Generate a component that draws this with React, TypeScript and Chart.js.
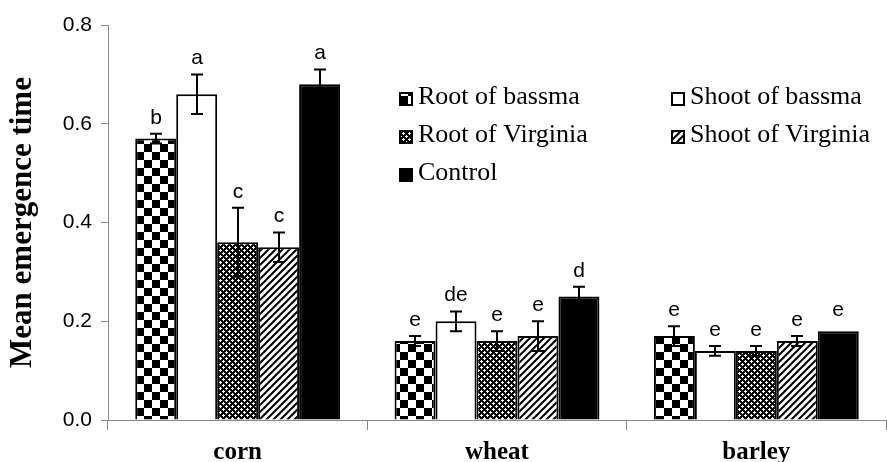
import React, { useEffect, useRef } from "react";
import { Chart, registerables } from "chart.js";
Chart.register(...registerables);

const categories = ["corn", "wheat", "barley"];
const seriesNames = ["Root of bassma", "Shoot of bassma", "Root of Virginia", "Shoot of Virginia", "Control"];

const rootBassma = [0.57, 0.16, 0.17];
const shootBassma = [0.66, 0.2, 0.14];
const rootVirginia = [0.36, 0.16, 0.14];
const shootVirginia = [0.35, 0.17, 0.16];
const control = [0.68, 0.25, 0.18];

const rootBassmaErr = [0.01, 0.01, 0.02];
const shootBassmaErr = [0.04, 0.02, 0.01];
const rootVirginiaErr = [0.07, 0.02, 0.01];
const shootVirginiaErr = [0.03, 0.03, 0.01];
const controlErr = [0.03, 0.02, 0];

const rootBassmaLetters = ["b", "e", "e"];
const shootBassmaLetters = ["a", "de", "e"];
const rootVirginiaLetters = ["c", "e", "e"];
const shootVirginiaLetters = ["c", "e", "e"];
const controlLetters = ["a", "d", "e"];

const yTicks = [0, 0.2, 0.4, 0.6, 0.8];

const SERIF = '"Liberation Serif", "Times New Roman", serif';
const SANS = '"Liberation Sans", Arial, sans-serif';

function makeTile(w: number, h: number, draw: (c: CanvasRenderingContext2D) => void) {
  const cv = document.createElement("canvas");
  cv.width = w;
  cv.height = h;
  const c = cv.getContext("2d")!;
  draw(c);
  return cv;
}

function makePatterns(ctx: CanvasRenderingContext2D) {
  const checker = makeTile(16, 16, (c) => {
    c.fillStyle = "#fff";
    c.fillRect(0, 0, 16, 16);
    c.fillStyle = "#000";
    c.fillRect(0, 0, 8, 8);
    c.fillRect(8, 8, 8, 8);
  });
  const dense = makeTile(6, 6, (c) => {
    c.fillStyle = "#000";
    c.fillRect(0, 0, 6, 6);
    c.fillStyle = "#fff";
    c.fillRect(1, 0, 1, 3);
    c.fillRect(0, 1, 3, 1);
    c.fillRect(4, 3, 1, 3);
    c.fillRect(3, 4, 3, 1);
  });
  const diag = makeTile(7, 7, (c) => {
    c.fillStyle = "#fff";
    c.fillRect(0, 0, 7, 7);
    c.strokeStyle = "#000";
    c.lineWidth = 2;
    for (const off of [-7, 0, 7]) {
      c.beginPath();
      c.moveTo(off - 1, 8);
      c.lineTo(off + 8, -1);
      c.stroke();
    }
  });
  return {
    checker: ctx.createPattern(checker, "repeat")!,
    dense: ctx.createPattern(dense, "repeat")!,
    diag: ctx.createPattern(diag, "repeat")!,
  };
}

export default function App() {
  const ref = useRef<HTMLCanvasElement | null>(null);

  useEffect(() => {
    document.body.style.margin = "0";
    const canvas = ref.current!;
    const ctx = canvas.getContext("2d")!;
    const pats = makePatterns(ctx);

    const values = [rootBassma, shootBassma, rootVirginia, shootVirginia, control];
    const errs = [rootBassmaErr, shootBassmaErr, rootVirginiaErr, shootVirginiaErr, controlErr];
    const letters = [rootBassmaLetters, shootBassmaLetters, rootVirginiaLetters, shootVirginiaLetters, controlLetters];
    const fills: (string | CanvasPattern)[] = [pats.checker, "#fff", pats.dense, pats.diag, "#000"];

    const errorPlugin = {
      id: "errbars",
      afterDatasetsDraw(chart: any) {
        const c = chart.ctx;
        const y = chart.scales.y;
        c.save();
        c.strokeStyle = "#000";
        c.lineWidth = 2;
        values.forEach((vals, i) => {
          const meta = chart.getDatasetMeta(i);
          meta.data.forEach((el: any, j: number) => {
            const v = vals[j];
            const e = errs[i][j];
            const top = y.getPixelForValue(v + e);
            const bot = y.getPixelForValue(v - e);
            const x = Math.round(el.x);
            if (e > 0) {
              c.beginPath();
              c.moveTo(x, top);
              c.lineTo(x, bot);
              c.moveTo(x - 6, top);
              c.lineTo(x + 6, top);
              c.moveTo(x - 6, bot);
              c.lineTo(x + 6, bot);
              c.stroke();
            }
            c.fillStyle = "#000";
            c.font = `21px ${SANS}`;
            c.textAlign = "center";
            c.textBaseline = "alphabetic";
            const gap = e > 0 ? 10 : 15;
            c.fillText(letters[i][j], x, top - gap);
          });
        });
        c.restore();
      },
    };

    const legendPlugin = {
      id: "customLegend",
      afterDraw(chart: any) {
        const c = chart.ctx;
        c.save();
        const cols = [399, 671];
        const rows = [99, 137, 175];
        seriesNames.forEach((name, i) => {
          const col = i % 2;
          const row = Math.floor(i / 2);
          const bx = cols[col];
          const by = rows[row];
          const s = 14;
          c.fillStyle = fills[i] as any;
          c.fillRect(bx, by - s / 2, s, s);
          c.strokeStyle = "#000";
          c.lineWidth = 2;
          c.strokeRect(bx + 1, by - s / 2 + 1, s - 2, s - 2);
          c.fillStyle = "#000";
          c.font = `26px ${SERIF}`;
          c.textAlign = "left";
          c.textBaseline = "alphabetic";
          c.fillText(name, bx + s + 5, by + 5);
        });
        c.restore();
      },
    };

    const chart = new Chart(ctx, {
      type: "bar",
      data: {
        labels: categories,
        datasets: values.map((vals, i) => ({
          label: seriesNames[i],
          data: vals,
          backgroundColor: fills[i] as any,
          borderColor: "#000",
          borderWidth: 2,
          barPercentage: 1,
          categoryPercentage: 0.79,
        })),
      },
      options: {
        animation: false,
        responsive: false,
        maintainAspectRatio: false,
        layout: { padding: { top: 25, right: 1, left: 0, bottom: 0 } },
        plugins: {
          legend: { display: false },
          tooltip: { enabled: false },
        },
        scales: {
          x: {
            afterFit: (s: any) => {
              s.height = 42;
            },
            grid: {
              offset: true,
              drawOnChartArea: false,
              drawTicks: true,
              tickLength: 10,
              color: "#888",
            },
            border: { color: "#888", width: 1 },
            ticks: {
              color: "#000",
              padding: 8,
              font: { family: SERIF, size: 25, weight: "bold" },
            },
          },
          y: {
            min: 0,
            max: 0.8,
            afterFit: (s: any) => {
              s.width = 108;
            },
            afterBuildTicks: (s: any) => {
              s.ticks = yTicks.map((v) => ({ value: v }));
            },
            grid: {
              drawOnChartArea: false,
              drawTicks: true,
              tickLength: 7,
              color: "#888",
            },
            border: { color: "#888", width: 1 },
            ticks: {
              color: "#000",
              padding: 9,
              font: { family: SANS, size: 21 },
              callback: (v: any) => Number(v).toFixed(1),
            },
            title: {
              display: true,
              text: "Mean emergence time",
              color: "#000",
              font: { family: SERIF, size: 31, weight: "bold" },
              padding: { top: 4, bottom: 0 },
            },
          },
        },
      },
      plugins: [errorPlugin, legendPlugin],
    });
    return () => chart.destroy();
  }, []);

  return (
    <div style={{ width: 887, height: 462, background: "#fff" }}>
      <canvas ref={ref} width={887} height={462} style={{ display: "block" }} />
    </div>
  );
}
